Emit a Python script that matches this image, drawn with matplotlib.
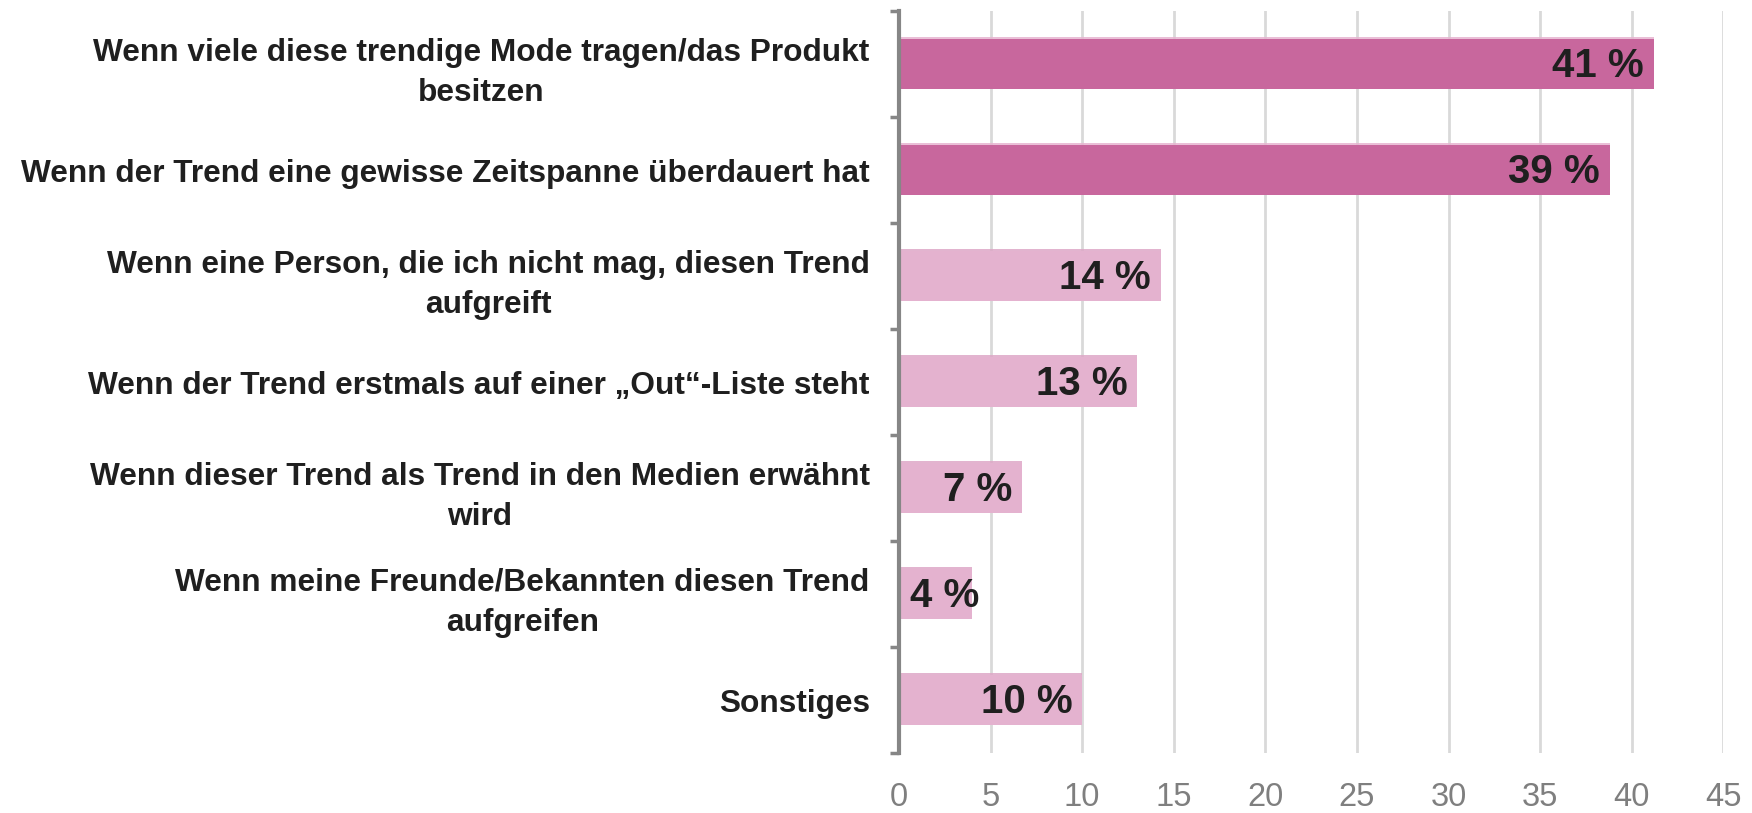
import matplotlib
matplotlib.use("Agg")
import matplotlib.pyplot as plt
import numpy as np

categories = [
    "Wenn viele diese trendige Mode tragen/das Produkt\nbesitzen",
    "Wenn der Trend eine gewisse Zeitspanne überdauert hat",
    "Wenn eine Person, die ich nicht mag, diesen Trend\naufgreift",
    "Wenn der Trend erstmals auf einer „Out“-Liste steht",
    "Wenn dieser Trend als Trend in den Medien erwähnt\nwird",
    "Wenn meine Freunde/Bekannten diesen Trend\naufgreifen",
    "Sonstiges",
]
values = [41.2, 38.8, 14.3, 13.0, 6.7, 4.0, 10.0]
value_labels = ["41 %", "39 %", "14 %", "13 %", "7 %", "4 %", "10 %"]
highlight = [True, True, False, False, False, False, False]
x_ticks = [0, 5, 10, 15, 20, 25, 30, 35, 40, 45]

dark = "#C8679D"
light = "#E4B2CF"
dark_edge = "#E6B3CF"
light_edge = "#DDA6C6"
text_color = "#1F1F1F"
axis_gray = "#868686"

plt.rcParams["font.family"] = ["Liberation Sans", "DejaVu Sans"]

fig = plt.figure(figsize=(17.52, 8.13), dpi=100)
ax = fig.add_axes([898.9 / 1752, 60 / 813, 824.4 / 1752, 742 / 813])

bar_h = 0.465
y = np.arange(len(categories))
colors = [dark if h else light for h in highlight]
edges = [dark_edge if h else light_edge for h in highlight]
ax.barh(y, values, height=bar_h, color=colors, zorder=3, linewidth=0)
for yi, v, ec in zip(y, values, edges):
    ax.hlines(yi - bar_h / 2 - 0.012, 0, v, color=ec, linewidth=1.2, zorder=3)

ax.set_xlim(0, 45)
ax.set_ylim(len(categories) - 0.5, -0.5)

ax.set_xticks(x_ticks)
ax.set_xticklabels([str(t) for t in x_ticks])
ax.tick_params(axis="x", length=0, pad=21, labelsize=23.5, labelcolor="#7F7F7F")
ax.grid(axis="x", color="#D9D9D9", linewidth=2, zorder=0)

ax.set_yticks(np.arange(len(categories) + 1) - 0.5)
ax.set_yticklabels([])
ax.set_yticks(y, minor=True)
ax.set_yticklabels(categories, minor=True)
ax.tick_params(axis="y", which="major", length=6.5, width=2.5, color=axis_gray)
ax.tick_params(axis="y", which="minor", length=0, pad=21, labelsize=22.8,
               labelcolor=text_color)
for lbl in ax.get_yticklabels(minor=True):
    lbl.set_fontweight("bold")
    lbl.set_linespacing(1.45)
    lbl.set_horizontalalignment("right")
    lbl.set_multialignment("center")

for s in ["top", "right", "bottom"]:
    ax.spines[s].set_visible(False)
ax.spines["left"].set_color(axis_gray)
ax.spines["left"].set_linewidth(3)
ax.spines["left"].set_zorder(5)

texts = []
for yi, v, lab in zip(y, values, value_labels):
    t = ax.annotate(lab, xy=(v, yi), xytext=(-7, -1.5), textcoords="offset points",
                    ha="right", va="center", fontsize=29, fontweight="bold",
                    color=text_color, zorder=4)
    texts.append((t, yi))

# Keep labels of very short bars inside the plot area (as the original does)
fig.canvas.draw()
renderer = fig.canvas.get_renderer()
axis_x = ax.transData.transform((0, 0))[0]
for t, yi in texts:
    bb = t.get_window_extent(renderer)
    if bb.x0 < axis_x + 11:
        t.xy = (0, yi)
        t.set_position((8, -1.5))
        t.set_ha("left")

fig.savefig("out.png", dpi=100)
